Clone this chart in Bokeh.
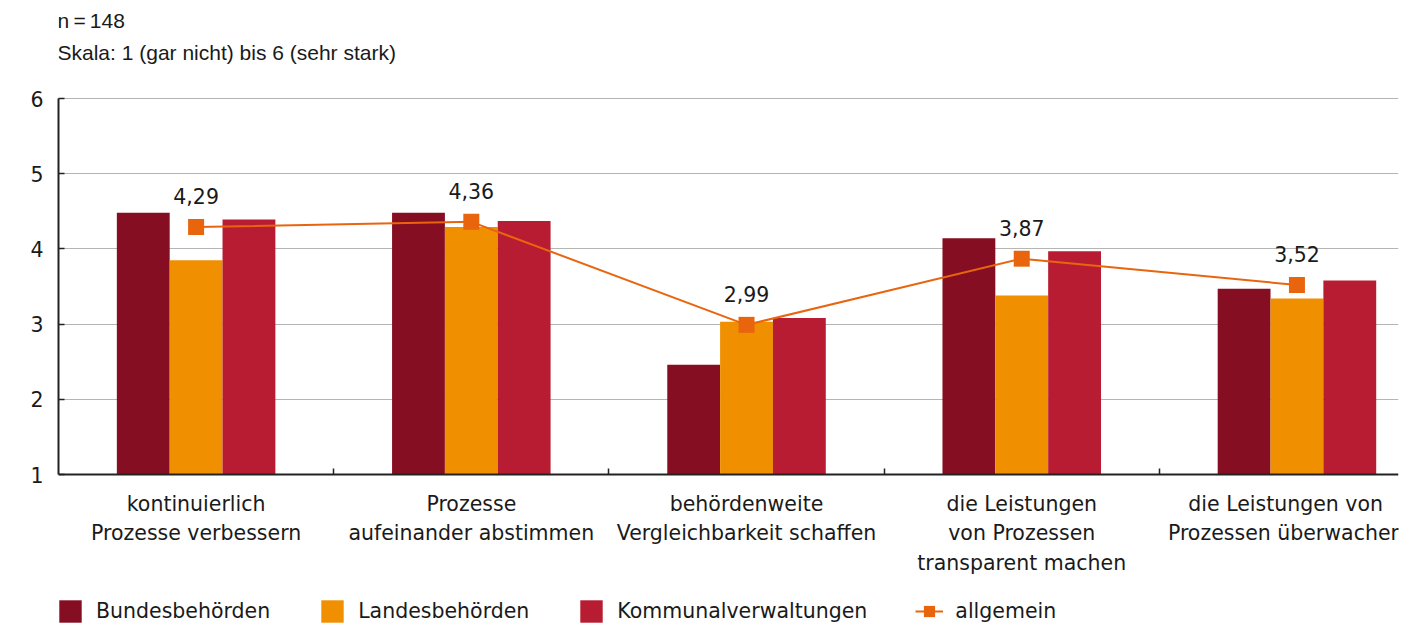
from bokeh.plotting import figure
from bokeh.models import ColumnDataSource, Range1d, FixedTicker, Legend, LegendItem, Label
from bokeh.core.properties import value
from bokeh.transform import dodge
from bokeh.embed import file_html
from bokeh.resources import INLINE

categories = [
    "kontinuierlich\nProzesse verbessern",
    "Prozesse\naufeinander abstimmen",
    "behördenweite\nVergleichbarkeit schaffen",
    "die Leistungen\nvon Prozessen\ntransparent machen",
    "die Leistungen von\nProzessen überwachen",
]
bundes = [4.48, 4.48, 2.46, 4.14, 3.47]
landes = [3.85, 4.29, 3.03, 3.38, 3.34]
kommunal = [4.39, 4.37, 3.08, 3.97, 3.58]
allgemein = [4.29, 4.36, 2.99, 3.87, 3.52]
allgemein_labels = ["4,29", "4,36", "2,99", "3,87", "3,52"]
series_names = ["Bundesbehörden", "Landesbehörden", "Kommunalverwaltungen", "allgemein"]
y_ticks = [1, 2, 3, 4, 5, 6]
note_lines = ["n\u2009=\u2009148", "Skala: 1 (gar nicht) bis 6 (sehr stark)"]

FONT = "DejaVu Sans"
NOTE_FONT = "Liberation Sans"
FS = "20.5px"
TXT = "#1a1a1a"
C_B, C_L, C_K, C_A = "#850e22", "#f09000", "#b81c32", "#e8650e"

H = 626
PX_PER_UNIT = 75.2          # vertical scale of the value axis
TOP_PX, AXIS_PX = 98, 474   # where 6 and 1 sit on the canvas
y_lo = 1 - (H - AXIS_PX) / PX_PER_UNIT
y_hi = 6 + TOP_PX / PX_PER_UNIT

xs = list(range(1, len(categories) + 1))
src = ColumnDataSource(dict(x=xs, b=bundes, l=landes, k=kommunal, a=allgemein, lab=allgemein_labels))

p = figure(width=1403, height=H, x_range=Range1d(0.5, 0.5 + 4.869), y_range=Range1d(y_lo, y_hi),
           output_backend="svg", toolbar_location=None,
           min_border_left=58, min_border_right=5, min_border_top=0, min_border_bottom=0)
p.outline_line_color = None
p.background_fill_color = "white"

W = 0.192
r_b = p.vbar(x=dodge("x", -W, range=p.x_range), top="b", bottom=1, width=W, source=src, fill_color=C_B, line_color=None)
r_l = p.vbar(x="x", top="l", bottom=1, width=W, source=src, fill_color=C_L, line_color=None)
r_k = p.vbar(x=dodge("x", W, range=p.x_range), top="k", bottom=1, width=W, source=src, fill_color=C_K, line_color=None)
r_line = p.line(x="x", y="a", source=src, line_color=C_A, line_width=2)
r_pts = p.scatter(x="x", y="a", source=src, marker="square", size=16, fill_color=C_A, line_color=None)
p.text(x="x", y="a", text="lab", source=src, y_offset=-31, text_align="center", text_baseline="middle",
       text_font=value(FONT), text_font_size=FS, text_color=TXT)

# x axis drawn at value 1 inside the frame
xa = p.xaxis[0]
xa.fixed_location = 1
xa.ticker = FixedTicker(ticks=xs, minor_ticks=[1.5, 2.5, 3.5, 4.5])
xa.major_label_overrides = {x: c for x, c in zip(xs, categories)}
xa.major_tick_line_color = None
xa.minor_tick_in = 6
xa.minor_tick_out = 0
xa.minor_tick_line_color = "#222222"
xa.minor_tick_line_width = 1.5
xa.axis_line_color = "#222222"
xa.axis_line_width = 2
xa.major_label_text_font = FONT
xa.major_label_text_font_size = FS
xa.major_label_text_color = TXT
xa.major_label_text_line_height = 1.23
xa.major_label_standoff = 11

ya = p.yaxis[0]
ya.bounds = (1, 6)
ya.ticker = FixedTicker(ticks=y_ticks, minor_ticks=[])
ya.major_tick_in = 6
ya.major_tick_out = 0
ya.major_tick_line_color = "#222222"
ya.major_tick_line_width = 1.5
ya.axis_line_color = "#222222"
ya.axis_line_width = 2
ya.major_label_text_font = FONT
ya.major_label_text_font_size = FS
ya.major_label_text_color = TXT
ya.major_label_standoff = 15

p.xgrid.visible = False
p.ygrid.grid_line_color = "#b5b5b5"
p.ygrid.grid_line_width = 1
p.ygrid.ticker = FixedTicker(ticks=y_ticks[1:])

# notes above the chart (screen units from the frame's bottom-left)
for txt, yy in zip(note_lines, [H - 20, H - 52]):
    p.add_layout(Label(x=-1, y=yy, x_units="screen", y_units="screen", text=txt,
                       text_baseline="middle", text_align="left", text_font=NOTE_FONT,
                       text_font_size="21px", text_color=TXT))

legend = Legend(items=[
    LegendItem(label=series_names[0], renderers=[r_b]),
    LegendItem(label=series_names[1], renderers=[r_l]),
    LegendItem(label=series_names[2], renderers=[r_k]),
    LegendItem(label=series_names[3], renderers=[r_line, r_pts]),
], orientation="horizontal", location=(-2, 1), glyph_width=28, glyph_height=28,
    label_standoff=12, spacing=48, padding=0, margin=0, border_line_color=None,
    background_fill_alpha=0, label_text_font=FONT, label_text_font_size=FS,
    label_text_color=TXT)
p.add_layout(legend, "center")

open("out.html", "w").write(file_html(p, INLINE))
